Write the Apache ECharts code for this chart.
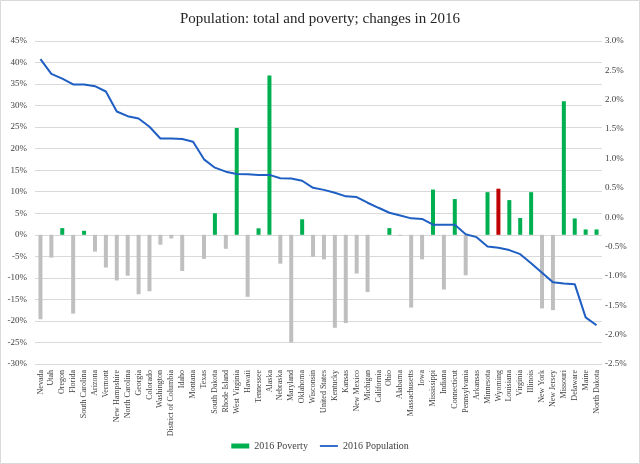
<!DOCTYPE html>
<html>
<head>
<meta charset="utf-8">
<script src="https://cdn.jsdelivr.net/npm/echarts@6/dist/echarts.min.js"></script>
<style>
html,body{margin:0;padding:0;background:#fff;}
#c{width:640px;height:464px;}
</style>
</head>
<body>
<div id="c"></div>
<script>
const categories = ["Nevada","Utah","Oregon","Florida","South Carolina","Arizona","Vermont","New Hampshire","North Carolina","Georgia","Colorado","Washington","District of Columbia","Idaho","Montana","Texas","South Dakota","Rhode Island","West Virginia","Hawaii","Tennessee","Alaska","Nebraska","Maryland","Oklahoma","Wisconsin","United States","Kentucky","Kansas","New Mexico","Michigan","California","Ohio","Alabama","Massachusetts","Iowa","Mississippi","Indiana","Connecticut","Pennsylvania","Arkansas","Minnesota","Wyoming","Louisiana","Virginia","Illinois","New York","New Jersey","Missouri","Delaware","Maine","North Dakota"];
const poverty2016 = [-19.6,-5.3,1.55,-18.3,0.93,-3.9,-7.6,-10.6,-9.5,-13.8,-13.1,-2.3,-0.85,-8.4,0,-5.6,5.0,-3.25,24.8,-14.4,1.5,37.0,-6.7,-25.0,3.6,-5.1,-5.7,-21.6,-20.5,-9.0,-13.3,0,1.55,-0.2,-16.9,-5.7,10.5,-12.7,8.3,-9.4,0,9.9,10.7,8.06,3.9,9.9,-17.1,-17.5,31.0,3.8,1.25,1.25];
const population2016 = [2.69,2.44,2.36,2.26,2.26,2.23,2.14,1.80,1.72,1.68,1.54,1.34,1.34,1.33,1.285,0.985,0.843,0.775,0.735,0.73,0.72,0.72,0.662,0.66,0.62,0.50,0.465,0.417,0.355,0.343,0.246,0.16,0.076,0.03,-0.02,-0.03,-0.128,-0.13,-0.13,-0.29,-0.34,-0.50,-0.52,-0.56,-0.63,-0.786,-0.946,-1.11,-1.13,-1.14,-1.706,-1.84];
const leftTicks = {min:-30, max:45, interval:5};
const rightTicks = {min:-2.5, max:3.0, interval:0.5};
const highlighted = "Wyoming";

const GREEN = '#00B050', GRAY = '#BFBFBF', RED = '#C00000', BLUE = '#1F5FC4';
const FONT = '"Liberation Serif","DejaVu Serif",serif';

const barData = poverty2016.map((v, i) => ({
  value: v,
  itemStyle: { color: categories[i] === highlighted ? RED : (v >= 0 ? GREEN : GRAY) }
}));

const chart = echarts.init(document.getElementById('c'), null, {renderer:'canvas'});
chart.setOption({
  animation: false,
  backgroundColor: '#fff',
  textStyle: { fontFamily: FONT },
  title: {
    text: 'Population: total and poverty; changes in 2016',
    left: 'center', top: 7,
    textStyle: { fontFamily: FONT, fontSize: 15, fontWeight: 'normal', color: '#262626' }
  },
  legend: {
    bottom: 8, left: 'center', itemGap: 12,
    textStyle: { fontFamily: FONT, fontSize: 10, color: '#404040' },
    data: [
      { name: '2016 Poverty', icon: 'rect', itemStyle: { color: GREEN } },
      { name: '2016 Population', icon: 'path://M0,0 L20,0 L20,2 L0,2 Z', itemStyle: { color: BLUE } }
    ],
    itemWidth: 18, itemHeight: 5
  },
  grid: { left: 35, right: 38, top: 41, bottom: 100, containLabel: false },
  xAxis: {
    type: 'category', data: categories,
    axisLine: { show: false }, axisTick: { show: false },
    axisLabel: { interval: 0, rotate: 90, fontFamily: FONT, fontSize: 8, color: '#404040', margin: 6 }
  },
  yAxis: [
    {
      type: 'value', min: leftTicks.min, max: leftTicks.max, interval: leftTicks.interval,
      axisLine: { show: false }, axisTick: { show: false },
      splitLine: { lineStyle: { color: '#D9D9D9', width: 1 } },
      axisLabel: { formatter: v => v + '%', fontFamily: FONT, fontSize: 9, color: '#404040', margin: 8 }
    },
    {
      type: 'value', min: rightTicks.min, max: rightTicks.max, interval: rightTicks.interval,
      position: 'right',
      axisLine: { show: false }, axisTick: { show: false }, splitLine: { show: false },
      axisLabel: { formatter: v => v.toFixed(1) + '%', fontFamily: FONT, fontSize: 9, color: '#404040', margin: 3 }
    }
  ],
  series: [
    {
      name: '2016 Poverty', type: 'bar', yAxisIndex: 0, barWidth: 4,
      itemStyle: { color: GREEN }, data: barData
    },
    {
      name: '2016 Population', type: 'line', yAxisIndex: 1,
      showSymbol: false, symbol: 'none',
      lineStyle: { color: BLUE, width: 2 }, itemStyle: { color: BLUE },
      data: population2016
    }
  ],
  graphic: [{
    type: 'rect', shape: { x: 0.5, y: 0.5, width: 639, height: 463 },
    style: { fill: 'none', stroke: '#D9D9D9', lineWidth: 1 }, silent: true, z: 100
  }]
});
</script>
</body>
</html>
